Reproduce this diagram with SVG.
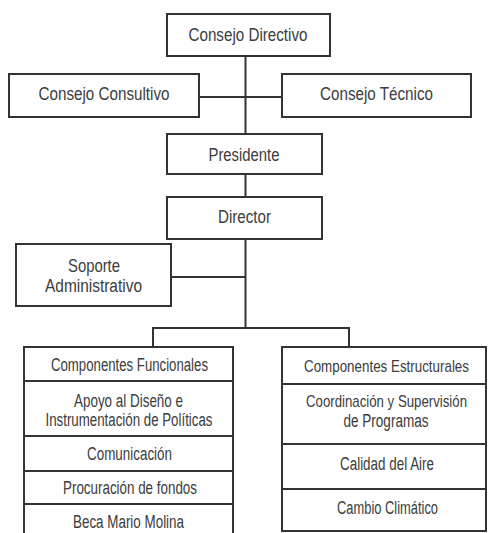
<svg xmlns="http://www.w3.org/2000/svg" width="489" height="533" viewBox="0 0 489 533">
<style>
  .box { fill: #ffffff; stroke: #333333; stroke-width: 2; }
  .ln { fill: none; stroke: #333333; stroke-width: 2; }
  text { font-family: "Liberation Sans Narrow", "Liberation Sans", Arial, sans-serif; font-size: 18px; fill: #3c3c3c; text-anchor: middle; }
  .sm { font-size: 17px; }
</style>
<rect width="489" height="533" fill="#ffffff"/>
<g id="connectors">
  <line class="ln" x1="245.5" y1="56" x2="245.5" y2="134"/>
  <line class="ln" x1="199" y1="97" x2="282" y2="97"/>
  <line class="ln" x1="245.5" y1="174" x2="245.5" y2="197"/>
  <line class="ln" x1="245.5" y1="239" x2="245.5" y2="328"/>
  <line class="ln" x1="171" y1="277" x2="245.5" y2="277"/>
  <polyline class="ln" points="153,347 153,328 349,328 349,347"/>
</g>
<g id="consejo-directivo">
  <rect class="box" x="167" y="14" width="163" height="42"/>
  <text x="248" y="41" textLength="119" lengthAdjust="spacingAndGlyphs">Consejo Directivo</text>
</g>
<g id="consejo-consultivo">
  <rect class="box" x="9" y="74" width="190" height="43"/>
  <text x="104" y="100" textLength="131" lengthAdjust="spacingAndGlyphs">Consejo Consultivo</text>
</g>
<g id="consejo-tecnico">
  <rect class="box" x="282" y="74" width="189" height="43"/>
  <text x="376.5" y="100" textLength="113" lengthAdjust="spacingAndGlyphs">Consejo Técnico</text>
</g>
<g id="presidente">
  <rect class="box" x="167" y="134" width="155" height="40"/>
  <text x="244" y="160.5" textLength="71" lengthAdjust="spacingAndGlyphs">Presidente</text>
</g>
<g id="director">
  <rect class="box" x="167" y="197" width="155" height="42"/>
  <text x="244.5" y="222.5" textLength="53" lengthAdjust="spacingAndGlyphs">Director</text>
</g>
<g id="soporte-administrativo">
  <rect class="box" x="16" y="244" width="155" height="62"/>
  <text x="94" y="271.5" textLength="52" lengthAdjust="spacingAndGlyphs">Soporte</text>
  <text x="93.5" y="291.5" textLength="97" lengthAdjust="spacingAndGlyphs">Administrativo</text>
</g>
<g id="componentes-funcionales">
  <path class="ln" d="M24,533 V347 H233 V533"/>
  <line class="ln" x1="24" y1="381" x2="233" y2="381"/>
  <line class="ln" x1="24" y1="436" x2="233" y2="436"/>
  <line class="ln" x1="24" y1="471" x2="233" y2="471"/>
  <line class="ln" x1="24" y1="504" x2="233" y2="504"/>
  <text x="129.5" y="371" textLength="157" lengthAdjust="spacingAndGlyphs">Componentes Funcionales</text>
  <text x="128.5" y="406.5" textLength="109" lengthAdjust="spacingAndGlyphs">Apoyo al Diseño e</text>
  <text x="129" y="425.5" textLength="167" lengthAdjust="spacingAndGlyphs">Instrumentación de Políticas</text>
  <text x="129.5" y="460" textLength="85" lengthAdjust="spacingAndGlyphs">Comunicación</text>
  <text x="130" y="494" textLength="134" lengthAdjust="spacingAndGlyphs">Procuración de fondos</text>
  <text x="128.5" y="527.5" textLength="111" lengthAdjust="spacingAndGlyphs">Beca Mario Molina</text>
</g>
<g id="componentes-estructurales">
  <rect class="box" x="282" y="347" width="204" height="184"/>
  <line class="ln" x1="282" y1="384" x2="486" y2="384"/>
  <line class="ln" x1="282" y1="444" x2="486" y2="444"/>
  <line class="ln" x1="282" y1="489" x2="486" y2="489"/>
  <text class="sm" x="386.5" y="372" textLength="165" lengthAdjust="spacingAndGlyphs">Componentes Estructurales</text>
  <text class="sm" x="386.5" y="406.5" textLength="161" lengthAdjust="spacingAndGlyphs">Coordinación y Supervisión</text>
  <text x="386" y="427" textLength="85" lengthAdjust="spacingAndGlyphs">de Programas</text>
  <text x="387" y="470" textLength="94" lengthAdjust="spacingAndGlyphs">Calidad del Aire</text>
  <text x="387.5" y="514" textLength="101" lengthAdjust="spacingAndGlyphs">Cambio Climático</text>
</g>
</svg>
